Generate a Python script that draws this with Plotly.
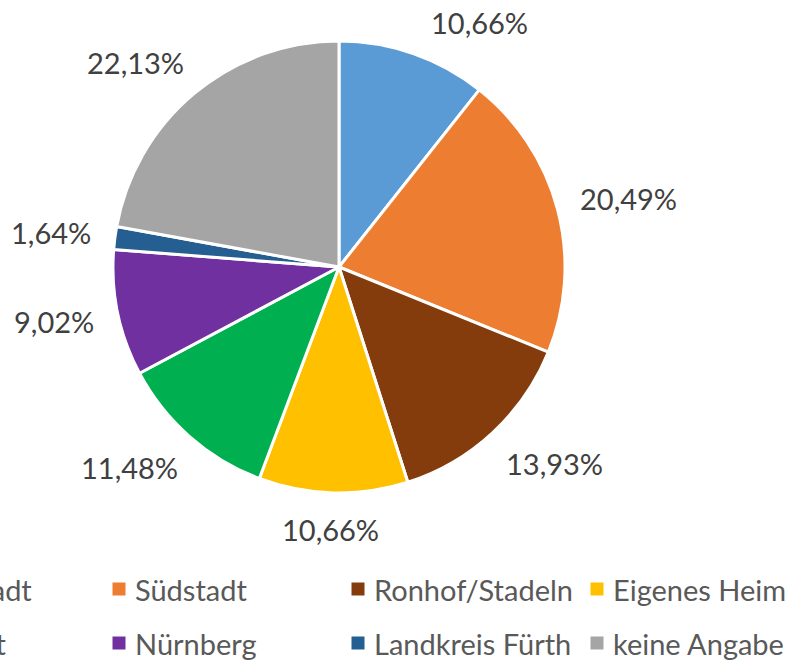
import math
import plotly.graph_objects as go

# ---- data ----
categories = ["Innenstadt", "Südstadt", "Ronhof/Stadeln", "Eigenes Heim",
              "Oststadt", "Nürnberg", "Landkreis Fürth", "keine Angabe"]
shares = [10.66, 20.49, 13.93, 10.66, 11.48, 9.02, 1.64, 22.13]
colors = ["#5B9BD5", "#ED7D31", "#843C0C", "#FFC000",
          "#00B050", "#7030A0", "#255E91", "#A5A5A5"]

W, H = 795, 662
CX, CY, R = 339, 267, 226          # pie centre / radius in pixels
FONT = "Lato"
LABEL_SIZE = 29
LEGEND_SIZE = 29
RL = R + 25                        # radius of label anchor circle
CHAR_W = 15.7                      # approx. label text width per character
HALF_H = 12
TOP_MIN = 22

def px(x):
    return x / W

def py(y):
    return 1 - y / H

def clamp(v):
    return max(-1.0, min(1.0, v))

fig = go.Figure()
fig.add_trace(go.Pie(
    labels=categories,
    values=shares,
    sort=False,
    direction="clockwise",
    rotation=0,
    marker=dict(colors=colors, line=dict(color="white", width=3)),
    textinfo="none",
    hoverinfo="label+percent",
    showlegend=False,
    domain=dict(x=[px(CX - R), px(CX + R)], y=[py(CY + R), py(CY - R)]),
))

annotations = []
total = sum(shares)
cum = 0.0
for cat, v in zip(categories, shares):
    txt = f"{v:.2f}%".replace(".", ",")
    hw = CHAR_W * len(txt) / 2
    mid = (cum + v / 2) / total * 2 * math.pi
    cum += v
    ux, uy = math.sin(mid), -math.cos(mid)
    ox = clamp(ux / math.sqrt(0.5)) * hw
    oy = clamp(uy / math.sqrt(0.5)) * HALF_H
    lx = CX + RL * ux + ox
    ly = CY + RL * uy + oy
    if ly < TOP_MIN:
        # keep inside the chart: slide sideways until the nearest corner clears the pie
        ly = TOP_MIN
        dy = (ly + HALF_H) - CY
        dx = math.sqrt(max(RL * RL - dy * dy, 0))
        lx = CX + math.copysign(dx + hw, ux)
    annotations.append(dict(
        x=px(lx), y=py(ly), xref="paper", yref="paper",
        text=txt, showarrow=False,
        xanchor="center", yanchor="middle",
        font=dict(family=FONT, size=LABEL_SIZE, color="#404040"),
    ))

# ---- legend (4 columns x 2 rows, partly cut off at the left like the reference) ----
COL0, COLSTEP = -120, 239
ROWS = [589, 643]
SQ = 13
shapes = []
for i, (cat, col) in enumerate(zip(categories, colors)):
    r, c = divmod(i, 4)
    mx, my = COL0 + c * COLSTEP, ROWS[r]
    shapes.append(dict(
        type="rect", xref="paper", yref="paper",
        x0=px(mx - SQ / 2), x1=px(mx + SQ / 2),
        y0=py(my + SQ / 2), y1=py(my - SQ / 2),
        fillcolor=col, line=dict(width=0),
    ))
    annotations.append(dict(
        x=px(mx + 14), y=py(my), xref="paper", yref="paper",
        text=cat, showarrow=False, xanchor="left", yanchor="middle",
        font=dict(family=FONT, size=LEGEND_SIZE, color="#595959"),
    ))

fig.update_layout(
    width=W, height=H,
    margin=dict(l=0, r=0, t=0, b=0, autoexpand=False),
    paper_bgcolor="white", plot_bgcolor="white",
    annotations=annotations, shapes=shapes,
    showlegend=False,
)

fig.write_html("out.html", config={"displayModeBar": False},
               post_script="document.body.style.margin='0';document.body.style.overflow='hidden';")
